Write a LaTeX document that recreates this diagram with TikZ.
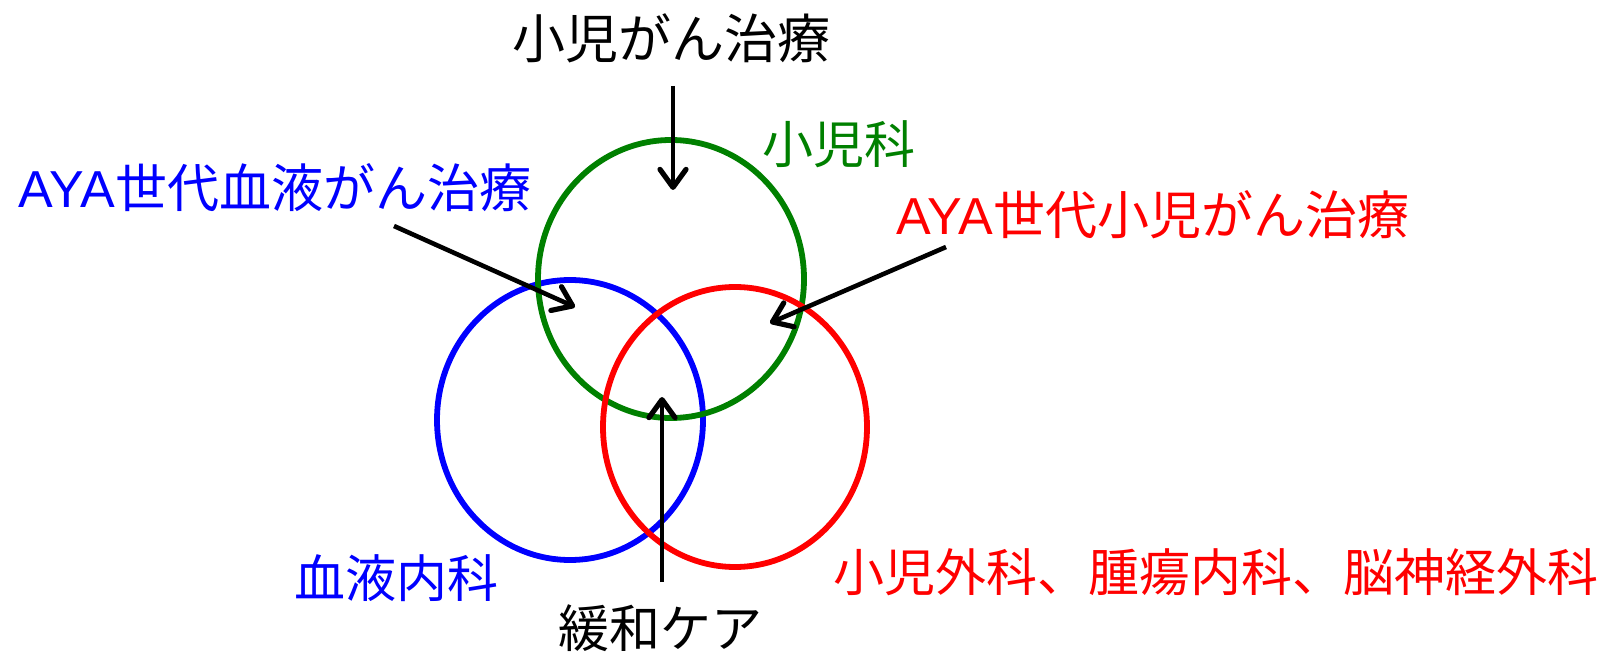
\documentclass[tikz,border=0pt]{standalone}
\usepackage{fontspec}
\setmainfont{Noto Sans CJK JP}
\newfontfamily\latinfont{Liberation Sans}
\usetikzlibrary{arrows.meta}
\definecolor{cgreen}{RGB}{0,128,0}
\definecolor{cblue}{RGB}{0,0,255}
\definecolor{cred}{RGB}{255,0,0}
\tikzset{
  ring/.style={line width=2.9pt},
  lbl/.style={inner sep=0pt, font=\fontsize{25.5}{30}\selectfont},
  pointer/.style={line width=2.3pt, -{Straight Barb[length=9pt,width=13pt,line width=2.6pt,round]}}
}
\begin{document}
\begin{tikzpicture}[x=0.5pt,y=-0.5pt]
\useasboundingbox (0,0) rectangle (1612,652);
% circles
\draw[ring,cblue] (570,420) ellipse [x radius=66.5pt, y radius=70pt];
\draw[ring,cgreen] (671,279) ellipse [x radius=66.5pt, y radius=69.5pt];
\draw[ring,cred] (735,427) ellipse [x radius=66pt, y radius=70pt];
% labels
\node[lbl, font=\fontsize{26.5}{30}\selectfont] (ttop) at (671,38) {小児がん治療};
\node[lbl, text=cgreen] (tped) at (839,144) {小児科};
\node[lbl, text=cblue, font=\fontsize{26}{30}\selectfont] (tayah) at (275,188) {{\latinfont AYA}世代血液がん治療};
\node[lbl, text=cred, font=\fontsize{26}{30}\selectfont] (tayap) at (1153,215) {{\latinfont AYA}世代小児がん治療};
\node[lbl, text=cblue] (themo) at (396,578) {血液内科};
\node[lbl, text=cred] (tsurg) at (1216,572) {小児外科、腫瘍内科、脳神経外科};
\node[lbl] (tpal) at (660,628) {緩和ケア};
% arrow endpoints
\coordinate (a1s) at (673,86);
\coordinate (a1e) at (673,190);
\coordinate (a2s) at (394,226);
\coordinate (a2e) at (575,307);
\coordinate (a3s) at (946,247);
\coordinate (a3e) at (770,323);
\coordinate (a4s) at (662,582);
\coordinate (a4e) at (662,397);
\draw[pointer] (a1s) -- (a1e);
\draw[pointer] (a2s) -- (a2e);
\draw[pointer] (a3s) -- (a3e);
\draw[pointer] (a4s) -- (a4e);
\end{tikzpicture}
\end{document}
